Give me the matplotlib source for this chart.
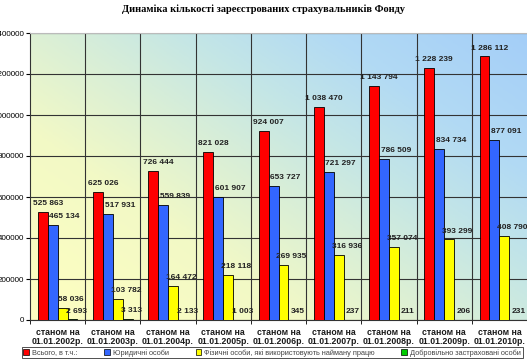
import numpy as np
import matplotlib
matplotlib.use("Agg")
import matplotlib.pyplot as plt
from matplotlib.colors import LinearSegmentedColormap
from matplotlib.patches import Patch

TITULO = "Динаміка кількості зареєстрованих страхувальників Фонду"

DATAS = ["01.01.2002р.", "01.01.2003р.", "01.01.2004р.", "01.01.2005р.", "01.01.2006р.",
         "01.01.2007р.", "01.01.2008р.", "01.01.2009р.", "01.01.2010р."]

VSOGO = [525863, 625026, 726444, 821028, 924007, 1038470, 1143794, 1228239, 1286112]
YURYDYCHNI = [465134, 517931, 559839, 601907, 653727, 721297, 786509, 834734, 877091]
FIZYCHNI = [58036, 103782, 164472, 218118, 269935, 316936, 357074, 393299, 408790]
DOBROVILNO = [2693, 3313, 2133, 1003, 345, 237, 211, 206, 231]

SERIES = [
    ("Всього, в т.ч.:", VSOGO, "#FF0000", 3.6),
    ("Юридичні особи", YURYDYCHNI, "#3366FF", 8.6),
    ("Фізичні особи, які використовують найману працю", FIZYCHNI, "#FFFF00", 5.8),
    ("Добровільно застраховані особи", DOBROVILNO, "#00CC00", 3.0),
]


def fmt(v):
    return f"{v:,}".replace(",", " ")


plt.rcParams["font.family"] = ["Liberation Sans", "DejaVu Sans"]

fig = plt.figure(figsize=(5.27, 3.59), dpi=100)
fig.patch.set_facecolor("white")
ax = fig.add_axes([30 / 527, 39 / 359, 1 - 30 / 527, 287 / 359])

# fundo em gradiente (amarelo -> azul)
cmap = LinearSegmentedColormap.from_list(
    "fundo", [(0, "#FFFFC0"), (0.3, "#F2F9C6"), (0.47, "#DAEFD6"), (0.62, "#C4E6E6"),
              (0.78, "#B2DAF4"), (1, "#A4CEF8")])
gx, gy = np.meshgrid(np.linspace(0, 1, 200), np.linspace(1, 0, 200))
ax.imshow(0.55 * gx + 0.45 * gy, cmap=cmap, vmin=0, vmax=1, aspect="auto",
          extent=[-0.5, 8.5, 0, 1400000], zorder=0)

x = np.arange(len(DATAS))
largura = 0.18
for i, (nome, valores, cor, dx) in enumerate(SERIES):
    pos = x + (i - 1.5) * largura
    ax.bar(pos, valores, largura, color=cor, edgecolor="black", linewidth=0.6, zorder=3)
    for px, v in zip(pos, valores):
        ax.annotate(fmt(v), (px, v), xytext=(dx, 6), textcoords="offset points",
                    ha="center", va="center", fontsize=6, fontweight="bold",
                    color="#222222", zorder=4)

ax.set_xlim(-0.5, 8.5)
ax.set_ylim(0, 1400000)
ax.set_yticks(range(0, 1400001, 200000))
ax.set_yticklabels([str(v) for v in range(0, 1400001, 200000)], fontsize=5.8)
ax.yaxis.grid(True, color="#333333", linewidth=0.8, zorder=1)
for b in np.arange(0.5, 8.5, 1):
    ax.axvline(b, color="#333333", linewidth=0.8, zorder=1)
ax.set_axisbelow(True)

ax.set_xticks(x)
ax.set_xticklabels([f"станом на\n{d}" for d in DATAS], fontsize=6.3, color="#1A1A1A",
                   fontweight="bold", linespacing=1.05)
ax.set_xticks(np.arange(-0.5, 9, 1), minor=True)
ax.tick_params(axis="x", which="major", length=0, pad=5.5)
ax.tick_params(axis="x", which="minor", length=3, direction="out")
ax.tick_params(axis="y", length=3, direction="out", pad=1)

for s in ["left", "bottom"]:
    ax.spines[s].set_color("#333333")
    ax.spines[s].set_linewidth(0.8)
ax.spines["top"].set_color("#BBBBBB")
ax.spines["right"].set_visible(False)

fig.text(0.5, 0.975, TITULO, ha="center", va="center", fontsize=7.5, fontweight="bold",
         family=["Liberation Serif", "DejaVu Serif"])

handles = [Patch(facecolor=c, edgecolor="black", linewidth=0.5) for _, _, c, _ in SERIES]
leg = fig.legend(handles, [n for n, _, _, _ in SERIES], loc="lower left",
                 bbox_to_anchor=(22 / 527, 1 / 359), ncol=4, fontsize=5.3,
                 frameon=True, fancybox=False, handlelength=0.8, handleheight=0.8,
                 handletextpad=0.4, columnspacing=3.6, borderpad=0.2,
                 borderaxespad=0, labelcolor="#444444")
leg.get_frame().set_edgecolor("black")
leg.get_frame().set_linewidth(0.6)

fig.savefig("out.png", dpi=100)
